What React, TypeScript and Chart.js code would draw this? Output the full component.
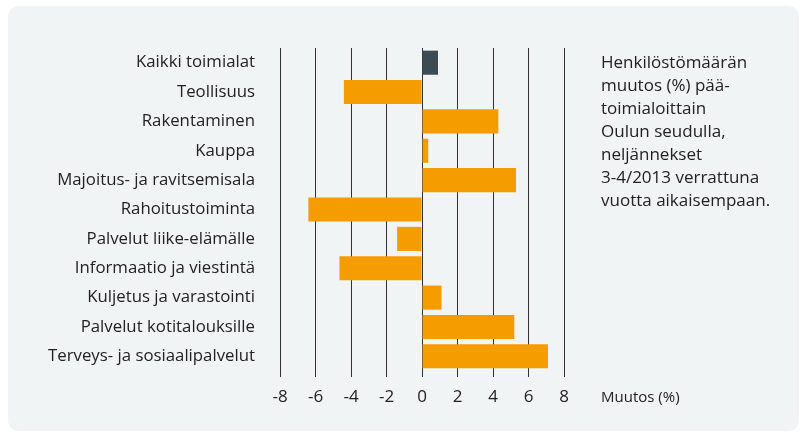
import React, { useEffect, useRef } from "react";
import { Chart, registerables } from "chart.js";

Chart.register(...registerables);

const categories = [
  "Kaikki toimialat",
  "Teollisuus",
  "Rakentaminen",
  "Kauppa",
  "Majoitus- ja ravitsemisala",
  "Rahoitustoiminta",
  "Palvelut liike-elämälle",
  "Informaatio ja viestintä",
  "Kuljetus ja varastointi",
  "Palvelut kotitalouksille",
  "Terveys- ja sosiaalipalvelut",
];

const changes = [0.9, -4.4, 4.3, 0.35, 5.3, -6.4, -1.4, -4.65, 1.1, 5.2, 7.1];

const xTicks = [-8, -6, -4, -2, 0, 2, 4, 6, 8];

const noteLines = [
  "Henkilöstömäärän",
  "muutos (%) pää-",
  "toimialoittain",
  "Oulun seudulla,",
  "neljännekset",
  "3-4/2013 verrattuna",
  "vuotta aikaisempaan.",
];

const axisTitle = "Muutos (%)";

const FONT = "'Open Sans', sans-serif";
const TEXT = "#222222";

const bgPlugin = {
  id: "bgBox",
  beforeDraw(chart: any) {
    const ctx = chart.ctx;
    ctx.save();
    ctx.fillStyle = "#f0f4f5";
    const x = 8, y = 6, w = 791, h = 425, r = 12;
    ctx.beginPath();
    ctx.moveTo(x + r, y);
    ctx.lineTo(x + w - r, y);
    ctx.quadraticCurveTo(x + w, y, x + w, y + r);
    ctx.lineTo(x + w, y + h - r);
    ctx.quadraticCurveTo(x + w, y + h, x + w - r, y + h);
    ctx.lineTo(x + r, y + h);
    ctx.quadraticCurveTo(x, y + h, x, y + h - r);
    ctx.lineTo(x, y + r);
    ctx.quadraticCurveTo(x, y, x + r, y);
    ctx.closePath();
    ctx.fill();
    ctx.restore();
  },
};

const textPlugin = {
  id: "notes",
  afterDraw(chart: any) {
    const ctx = chart.ctx;
    ctx.save();
    ctx.fillStyle = TEXT;
    ctx.font = "17px " + FONT;
    ctx.textAlign = "left";
    ctx.textBaseline = "alphabetic";
    noteLines.forEach((l, i) => ctx.fillText(l, 601, 68 + i * 23));
    ctx.font = "15px " + FONT;
    ctx.fillText(axisTitle, 601, 402);
    ctx.restore();
  },
};

export default function App() {
  const ref = useRef<HTMLCanvasElement>(null);
  useEffect(() => {
    if (!ref.current) return;
    const chart = new Chart(ref.current, {
      type: "bar",
      data: {
        labels: categories,
        datasets: [
          {
            data: changes,
            backgroundColor: changes.map((_, i) => (i === 0 ? "#3d4b53" : "#f59c00")),
            categoryPercentage: 1,
            barPercentage: 0.82,
          },
        ],
      },
      plugins: [bgPlugin, textPlugin],
      options: {
        indexAxis: "y",
        animation: false,
        responsive: false,
        maintainAspectRatio: false,
        devicePixelRatio: 1,
        layout: { padding: { left: 0, right: 240, top: 48, bottom: 0 } },
        plugins: { legend: { display: false }, tooltip: { enabled: false } },
        scales: {
          x: {
            min: -8,
            max: 8,
            afterBuildTicks: (s: any) => {
              s.ticks = xTicks.map((v) => ({ value: v }));
            },
            grid: { color: "#333333", lineWidth: 1, drawTicks: true, tickLength: 6 },
            border: { display: false },
            ticks: { color: TEXT, font: { size: 17, family: FONT }, padding: 10 },
            afterFit: (s: any) => {
              s.height = 61;
            },
          },
          y: {
            grid: { display: false, drawTicks: false },
            border: { display: false },
            ticks: { color: TEXT, font: { size: 16.8, family: FONT }, padding: 25 },
            afterFit: (s: any) => {
              s.width = 280;
            },
          },
        },
      } as any,
    });
    return () => chart.destroy();
  }, []);
  return (
    <canvas
      ref={ref}
      width={804}
      height={432}
      style={{ position: "absolute", left: 0, top: 0, width: 804, height: 432 }}
    />
  );
}
